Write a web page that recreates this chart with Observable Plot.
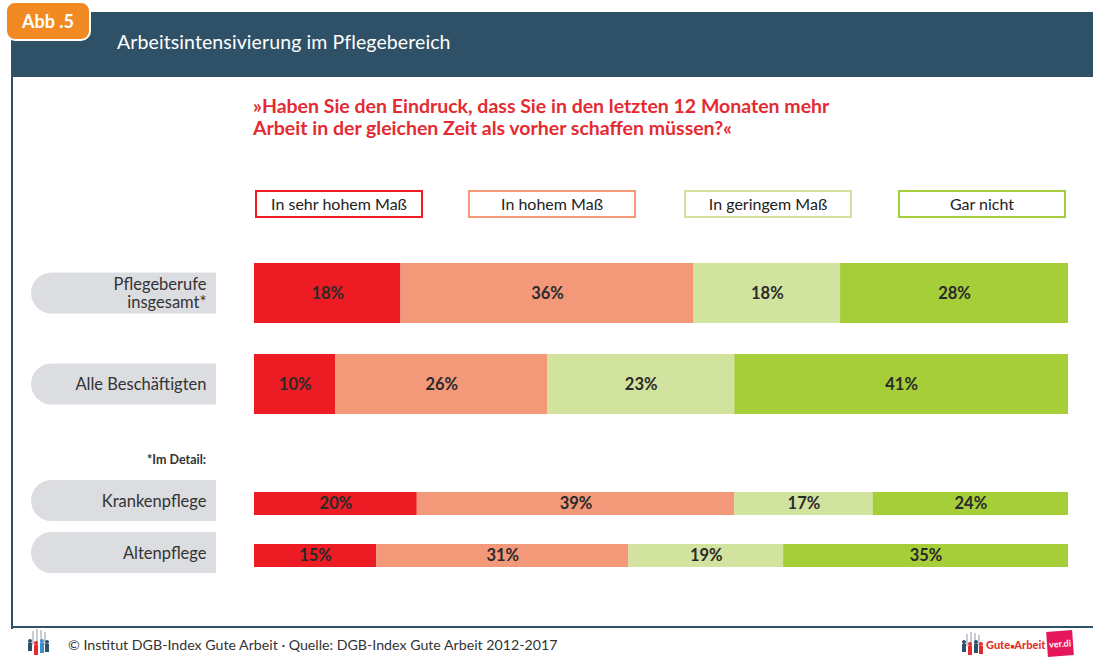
<!DOCTYPE html>
<html><head><meta charset="utf-8">
<script src="https://cdn.jsdelivr.net/npm/d3@7"></script>
<script src="https://cdn.jsdelivr.net/npm/@observablehq/plot@0.6"></script>
<style>
body{margin:0;background:#fff;font-family:Lato,"Open Sans",sans-serif;}
#page{position:relative;width:1093px;height:657px;overflow:hidden;background:#fff;}
.abs{position:absolute;}
#band{left:11px;top:12px;width:1082px;height:65px;background:#2e5168;}
#leftline{left:11px;top:77px;width:2px;height:552px;background:#2e5168;}
#bottomline{left:11px;top:626px;width:1082px;height:2px;background:#2e5168;}
#tag{left:5px;top:1px;width:82px;height:36px;border:2px solid #fff;border-radius:10px;background:#f28a24;color:#fff;font-weight:700;font-size:18px;line-height:36px;text-align:center;}
#title{left:117px;top:30px;color:#fff;font-size:19.5px;letter-spacing:0.1px;}
#question{left:253px;top:95px;color:#e42b31;font-size:19.5px;font-weight:700;line-height:22px;}
.leg{position:absolute;top:190px;height:24px;border:2.5px solid;font-size:16px;color:#222;text-align:center;line-height:24px;box-sizing:content-box;}
#detail{right:887px;top:452px;font-size:12.5px;font-weight:700;color:#333;}
#foot{left:68px;top:636px;font-size:14.2px;color:#333;}
#gute{left:986px;top:638px;font-size:11px;font-weight:900;color:#e8312f;}
#verdi{left:1047px;top:631px;width:26px;height:25px;background:#e5175a;color:#fff;font-size:9px;font-weight:700;line-height:25px;text-align:center;transform:rotate(-4deg);}
.plot{position:absolute;left:0;}
</style></head><body><div id="page">
<div id="band" class="abs"></div>
<div id="leftline" class="abs"></div>
<div id="bottomline" class="abs"></div>
<div id="tag" class="abs">Abb .5</div>
<div id="title" class="abs">Arbeitsintensivierung im Pflegebereich</div>
<div id="question" class="abs">»Haben Sie den Eindruck, dass Sie in den letzten 12 Monaten mehr<br>Arbeit in der gleichen Zeit als vorher schaffen müssen?«</div>
<div id="legend"></div>
<div id="detail" class="abs">*Im Detail:</div>
<svg class="abs" style="left:26px;top:629px" width="24" height="28" viewBox="0 0 24 28">
  <g fill="#c9ccd3"><rect x="6" y="2" width="2" height="14"/><rect x="10" y="0" width="2" height="16"/><rect x="14" y="1" width="2" height="15"/><rect x="18" y="3" width="2" height="13"/></g>
  <g><circle cx="4" cy="12" r="2" fill="#2e5168"/><rect x="2" y="14" width="4" height="8" fill="#2e5168"/>
  <circle cx="10" cy="14" r="2" fill="#e42b31"/><rect x="8" y="16" width="4" height="10" fill="#e42b31"/>
  <circle cx="16" cy="12" r="2" fill="#3a8fd0"/><rect x="14" y="14" width="4" height="10" fill="#3a8fd0"/>
  <circle cx="21" cy="13" r="2" fill="#2e5168"/><rect x="19" y="15" width="4" height="8" fill="#2e5168"/></g>
</svg>
<div id="foot" class="abs">© Institut DGB-Index Gute Arbeit · Quelle: DGB-Index Gute Arbeit 2012-2017</div>
<svg class="abs" style="left:960px;top:632px" width="26" height="24" viewBox="0 0 26 24">
  <g fill="#c9ccd3"><rect x="6" y="2" width="2" height="12"/><rect x="10" y="0" width="2" height="14"/><rect x="14" y="1" width="2" height="13"/><rect x="18" y="3" width="2" height="11"/></g>
  <circle cx="4" cy="10" r="2" fill="#2e5168"/><rect x="2" y="12" width="4" height="8" fill="#2e5168"/>
  <circle cx="10" cy="12" r="2" fill="#e42b31"/><rect x="8" y="14" width="4" height="9" fill="#e42b31"/>
  <circle cx="16" cy="10" r="2" fill="#2e5168"/><rect x="14" y="12" width="4" height="9" fill="#2e5168"/>
  <circle cx="21" cy="12" r="2" fill="#e42b31"/><rect x="19" y="14" width="4" height="8" fill="#e42b31"/>
</svg>
<div id="gute" class="abs">Gute<span style="font-size:7px">■</span>Arbeit</div>
<div id="verdi" class="abs">ver.di</div>
</div>
<script>
// ---- data ----
const answers = ["In sehr hohem Maß", "In hohem Maß", "In geringem Maß", "Gar nicht"];
const answerColors = ["#ed1c24", "#f4987a", "#d1e39f", "#a6ce39"];
const mainGroups = ["Pflegeberufe\ninsgesamt*", "Alle Beschäftigten"];
const detailGroups = ["Krankenpflege", "Altenpflege"];
const sehrHoch = [18, 10, 20, 15];
const hoch     = [36, 26, 39, 31];
const gering   = [18, 23, 17, 19];
const garNicht = [28, 41, 24, 35];

const allGroups = [...mainGroups, ...detailGroups];
const series = [sehrHoch, hoch, gering, garNicht];
const rows = [];
allGroups.forEach((g, i) => answers.forEach((a, j) => rows.push({group: g, answer: a, value: series[j][i]})));

// ---- legend ----
const legendLeft = [255, 468, 684, 898];
const legend = document.getElementById("legend");
answers.forEach((a, i) => {
  const d = document.createElement("div");
  d.className = "leg";
  d.style.left = legendLeft[i] + "px";
  d.style.width = "164px";
  d.style.borderColor = answerColors[i];
  d.textContent = a;
  legend.appendChild(d);
});

function pills(domain, offset) {
  return (index, scales, values, dims) => {
    const g = d3.create("svg:g");
    const bw = scales.y.bandwidth ? scales.y.bandwidth() : 0;
    const r = 20.5, right = dims.marginLeft - 38, left = 31;
    for (const d of domain) {
      const cy = scales.y(d) + bw / 2 + offset;
      g.append("path")
        .attr("fill", "#dcdde0")
        .attr("d", `M${left + r},${cy - r}H${right}V${cy + r}H${left + r}A${r},${r} 0 0 1 ${left + r},${cy - r}Z`);
    }
    return g.node();
  };
}

function makePlot(groups, bandH, padInner, top, pillOffset) {
  const data = rows.filter(d => groups.includes(d.group));
  const rangeLen = groups.length * bandH / (1 - padInner) - bandH * padInner / (1 - padInner);
  const mt = 20, mb = 20;
  const p = Plot.plot({
    width: 1093,
    height: Math.round(rangeLen + mt + mb),
    marginLeft: 254, marginRight: 25, marginTop: mt, marginBottom: mb,
    style: {fontFamily: "Lato, 'Open Sans', sans-serif", background: "transparent", overflow: "visible"},
    x: {domain: [0, 100], axis: null},
    y: {domain: groups, paddingInner: padInner, paddingOuter: 0, label: null},
    color: {domain: answers, range: answerColors},
    marks: [
      pills(groups, pillOffset),
      Plot.barX(data, Plot.stackX({x: "value", y: "group", fill: "answer", inset: 0})),
      Plot.text(data, Plot.stackX({x: "value", y: "group", z: "answer", text: d => d.value + "%", fill: "#2a2a2a", fontSize: 16.5, fontWeight: 700})),
      Plot.axisY({tickSize: 0, tickPadding: 48, fontSize: 16.5, fill: "#333", label: null, lineHeight: 1.1, dy: pillOffset})
    ]
  });
  p.classList.add("plot");
  p.style.top = (top - mt) + "px";
  document.getElementById("page").appendChild(p);
}

makePlot(mainGroups, 60, 31 / 91, 263, 0);
makePlot(detailGroups, 23, 30 / 53, 491, -3);
</script>
</body></html>
